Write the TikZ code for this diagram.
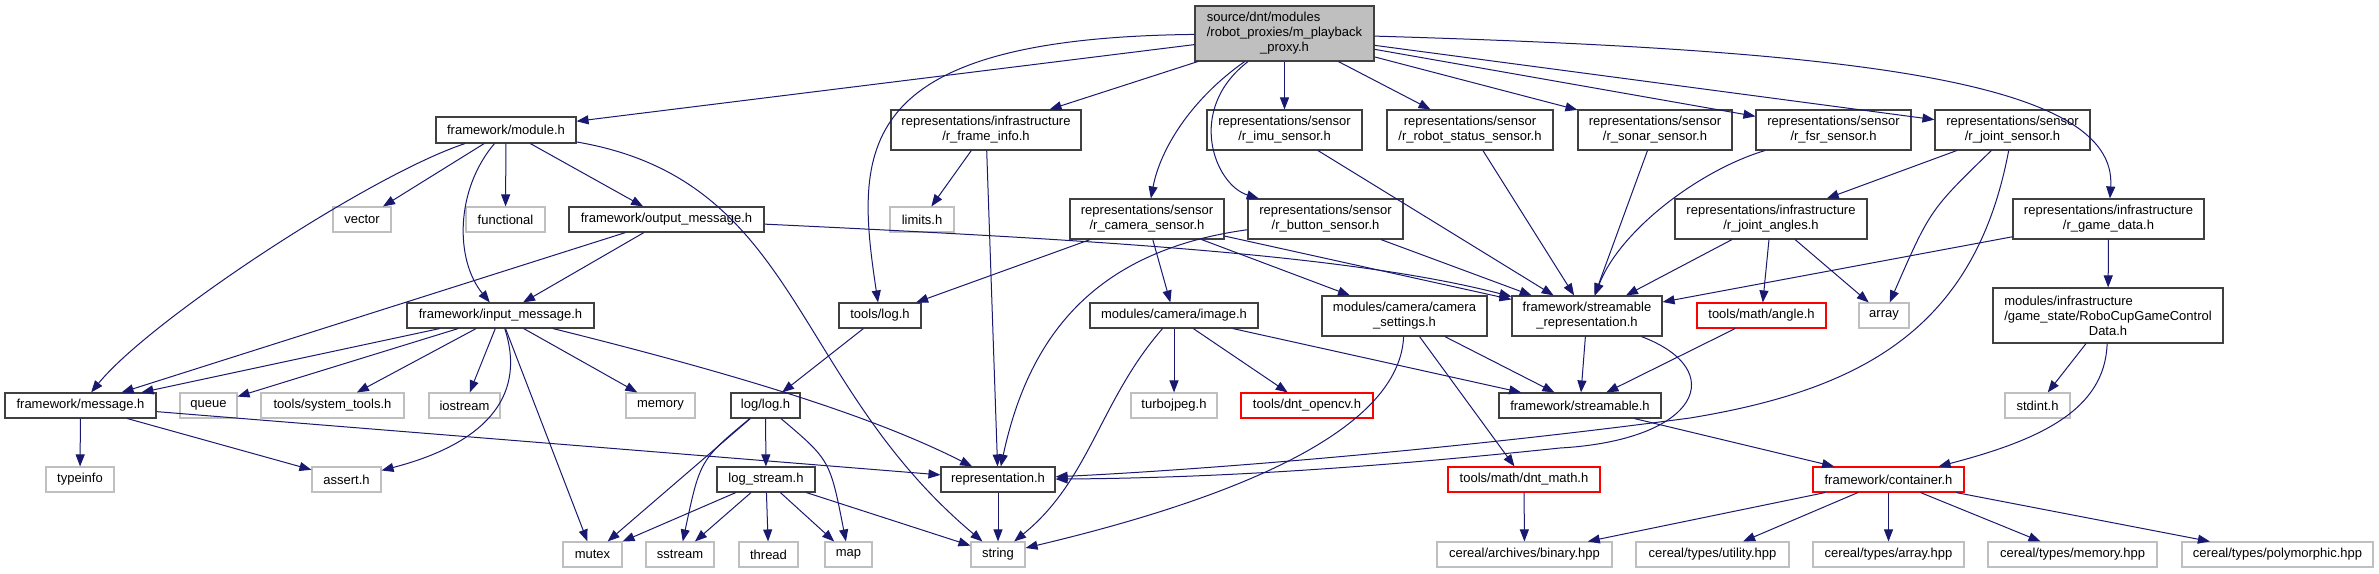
\documentclass[tikz,border=0pt]{standalone}
\usepackage{fontspec}
\setmainfont{Liberation Sans}
\usetikzlibrary{arrows.meta}
\definecolor{edgeblue}{HTML}{191970}
\definecolor{boxgray}{HTML}{404040}
\definecolor{extgray}{HTML}{BFBFBF}
\definecolor{mainfill}{HTML}{BFBFBF}
\tikzset{
  nodebase/.style={rectangle, fill=white, line width=1.1pt, inner sep=0pt, align=center,
    font=\fontsize{13}{15}\selectfont, minimum height=25pt},
  box/.style={nodebase, draw=boxgray},
  ext/.style={nodebase, draw=extgray},
  redbox/.style={nodebase, draw=red},
  mainbox/.style={nodebase, draw=boxgray, fill=mainfill},
  two/.style={minimum height=40pt},
  three/.style={minimum height=55pt},
  edge/.style={draw=edgeblue, line width=1pt, -{Triangle[length=12pt,width=9pt]}},
}
\begin{document}
\begin{tikzpicture}[x=1pt,y=-1pt]
\fill[white] (0,0) rectangle (2379,573);
\useasboundingbox (0,0) rectangle (2379,573);

% row 0
\node[mainbox, three, minimum width=179pt] (main) at (1284.5,33.5)
  {\rlap{source/dnt/modules}\phantom{/robot\_proxies/m\_playback}\\/robot\_proxies/m\_playback\\\_proxy.h};
% row 1
\node[box, minimum width=140pt, minimum height=26pt] (module) at (506,130) {framework/module.h};
\node[box, two, minimum width=190pt] (frame) at (986,130) {representations/infrastructure\\/r\_frame\_info.h};
\node[box, two, minimum width=155pt] (imu) at (1284.5,130) {representations/sensor\\/r\_imu\_sensor.h};
\node[box, two, minimum width=166pt] (robot) at (1470,130) {representations/sensor\\/r\_robot\_status\_sensor.h};
\node[box, two, minimum width=154pt] (sonar) at (1655,130) {representations/sensor\\/r\_sonar\_sensor.h};
\node[box, two, minimum width=155pt] (fsr) at (1833.5,130) {representations/sensor\\/r\_fsr\_sensor.h};
\node[box, two, minimum width=155pt] (jsensor) at (2012.5,130) {representations/sensor\\/r\_joint\_sensor.h};
% row 2
\node[ext, minimum width=58pt] (vector) at (362,219.5) {vector};
\node[ext, minimum width=79pt] (functional) at (505.5,219.5) {functional};
\node[box, minimum width=195pt] (outmsg) at (666.5,219.5) {framework/output\_message.h};
\node[ext, minimum width=64pt] (limits) at (922,219.5) {limits.h};
\node[box, two, minimum width=154pt] (camsens) at (1147,219) {representations/sensor\\/r\_camera\_sensor.h};
\node[box, two, minimum width=155pt] (button) at (1325.5,219) {representations/sensor\\/r\_button\_sensor.h};
\node[box, two, minimum width=192pt] (jangles) at (1771,219) {representations/infrastructure\\/r\_joint\_angles.h};
\node[box, two, minimum width=191pt] (gamedata) at (2108.5,219) {representations/infrastructure\\/r\_game\_data.h};
% row 3
\node[box, minimum width=187pt] (inmsg) at (500.5,315.5) {framework/input\_message.h};
\node[box, minimum width=82pt] (tlog) at (880,315.5) {tools/log.h};
\node[box, minimum width=168pt] (image) at (1174,315.5) {modules/camera/image.h};
\node[box, two, minimum width=165pt] (camset) at (1404.5,316) {modules/camera/camera\\\_settings.h};
\node[box, two, minimum width=150pt] (srep) at (1587,316) {framework/streamable\\\_representation.h};
\node[redbox, minimum width=129pt] (angle) at (1761.5,315.5) {tools/math/angle.h};
\node[ext, minimum width=50pt] (array) at (1884,315.5) {array};
\node[box, three, minimum width=230pt] (robocup) at (2108,315.5)
  {\rlap{modules/infrastructure}\phantom{/game\_state/RoboCupGameControl}\\/game\_state/RoboCupGameControl\\Data.h};
% row 4
\node[box, minimum width=151pt] (msg) at (80.5,405.5) {framework/message.h};
\node[ext, minimum width=57pt] (queue) at (208.5,405.5) {queue};
\node[ext, minimum width=143pt] (systools) at (332.5,405.5) {tools/system\_tools.h};
\node[ext, minimum width=71pt] (iostream) at (464.5,405.5) {iostream};
\node[ext, minimum width=69pt] (memory) at (660.5,405.5) {memory};
\node[box, minimum width=69pt] (loglog) at (765.5,405.5) {log/log.h};
\node[ext, minimum width=86pt] (turbo) at (1174,405.5) {turbojpeg.h};
\node[redbox, minimum width=132pt] (opencv) at (1307,405.5) {tools/dnt\_opencv.h};
\node[box, minimum width=162pt] (streamable) at (1580,405.5) {framework/streamable.h};
\node[ext, minimum width=65pt] (stdint) at (2037.5,405.5) {stdint.h};
% row 5
\node[ext, minimum width=68pt] (typeinfo) at (80,479.5) {typeinfo};
\node[ext, minimum width=69pt] (assert) at (346.5,479.5) {assert.h};
\node[box, minimum width=98pt] (logstream) at (766,479.5) {log\_stream.h};
\node[box, minimum width=114pt] (rep) at (998,479.5) {representation.h};
\node[redbox, minimum width=152pt] (dntmath) at (1524,479.5) {tools/math/dnt\_math.h};
\node[redbox, minimum width=151pt] (container) at (1888.5,479.5) {framework/container.h};
% row 6
\node[ext, minimum width=59pt] (mutex) at (592.5,554.5) {mutex};
\node[ext, minimum width=68pt] (sstream) at (680,554.5) {sstream};
\node[ext, minimum width=59pt] (thread) at (768.5,554.5) {thread};
\node[ext, minimum width=47pt] (map) at (848.5,554.5) {map};
\node[ext, minimum width=54pt] (string) at (998,554.5) {string};
\node[ext, minimum width=175pt] (binary) at (1524.5,554.5) {cereal/archives/binary.hpp};
\node[ext, minimum width=153pt] (utility) at (1712.5,554.5) {cereal/types/utility.hpp};
\node[ext, minimum width=151pt] (arrayhpp) at (1888.5,554.5) {cereal/types/array.hpp};
\node[ext, minimum width=169pt] (memoryhpp) at (2072.5,554.5) {cereal/types/memory.hpp};
\node[ext, minimum width=191pt] (poly) at (2277.5,554.5) {cereal/types/polymorphic.hpp};

% edges from main
\draw[edge] (main) -- (module);
\draw[edge] (main) .. controls (850,38) and (855,150) .. (tlog);
\draw[edge] (main) -- (frame);
\draw[edge] (main) .. controls (1190,100) and (1160,150) .. (camsens);
\draw[edge] (main) .. controls (1185,110) and (1215,185) .. (button);
\draw[edge] (main) -- (imu);
\draw[edge] (main) -- (robot);
\draw[edge] (main) -- (sonar);
\draw[edge] (main) -- (fsr);
\draw[edge] (main) -- (jsensor);
\draw[edge] (main) .. controls (1850,50) and (2118,80) .. (gamedata);
% module.h
\draw[edge] (module) -- (vector);
\draw[edge] (module) -- (functional);
\draw[edge] (module) -- (outmsg);
\draw[edge] (module) .. controls (455,190) and (455,260) .. (inmsg);
\draw[edge] (module) .. controls (370,175) and (150,320) .. (msg);
\draw[edge] (module) .. controls (800,180) and (790,380) .. (string);
% output_message.h
\draw[edge] (outmsg) -- (msg);
\draw[edge] (outmsg) -- (inmsg);
\draw[edge] (outmsg) .. controls (1100,240) and (1350,255) .. (srep);
% input_message.h
\draw[edge] (inmsg) -- (msg);
\draw[edge] (inmsg) -- (queue);
\draw[edge] (inmsg) -- (systools);
\draw[edge] (inmsg) -- (iostream);
\draw[edge] (inmsg) -- (memory);
\draw[edge] (inmsg) .. controls (528,400) and (480,445) .. (assert);
\draw[edge] (inmsg) -- (mutex);
\draw[edge] (inmsg) .. controls (760,380) and (880,420) .. (rep);
% message.h
\draw[edge] (msg) -- (typeinfo);
\draw[edge] (msg) -- (assert);
\draw[edge] (msg) -- (rep);
% log
\draw[edge] (tlog) -- (loglog);
\draw[edge] (loglog) -- (logstream);
\draw[edge] (loglog) -- (mutex);
\draw[edge] (loglog) .. controls (700,460) .. (sstream);
\draw[edge] (loglog) .. controls (830,460) .. (map);
\draw[edge] (logstream) -- (mutex);
\draw[edge] (logstream) -- (sstream);
\draw[edge] (logstream) -- (thread);
\draw[edge] (logstream) -- (map);
\draw[edge] (logstream) -- (string);
% frame info
\draw[edge] (frame) -- (limits);
\draw[edge] (frame) -- (rep);
% camera sensor
\draw[edge] (camsens) -- (tlog);
\draw[edge] (camsens) -- (image);
\draw[edge] (camsens) -- (camset);
\draw[edge] (camsens) -- (srep);
% button
\draw[edge] (button) .. controls (1100,250) and (1030,330) .. (rep);
\draw[edge] (button) -- (srep);
% other sensors
\draw[edge] (imu) -- (srep);
\draw[edge] (robot) -- (srep);
\draw[edge] (sonar) -- (srep);
\draw[edge] (fsr) .. controls (1700,170) and (1620,230) .. (srep);
% joint sensor
\draw[edge] (jsensor) -- (jangles);
\draw[edge] (jsensor) .. controls (1930,210) .. (array);
\draw[edge] (jsensor) .. controls (1975,330) and (1860,390) .. (1690,418) .. controls (1450,450) and (1200,470) .. (rep);
% joint angles
\draw[edge] (jangles) -- (srep);
\draw[edge] (jangles) -- (angle);
\draw[edge] (jangles) -- (array);
% game data
\draw[edge] (gamedata) -- (srep);
\draw[edge] (gamedata) -- (robocup);
\draw[edge] (robocup) -- (stdint);
\draw[edge] (robocup) .. controls (2105,410) and (2040,440) .. (container);
% streamables
\draw[edge] (angle) -- (streamable);
\draw[edge] (srep) -- (streamable);
\draw[edge] (srep) .. controls (1730,370) and (1700,440) .. (1560,448) .. controls (1350,470) and (1200,478) .. (rep);
\draw[edge] (streamable) -- (container);
% image
\draw[edge] (image) -- (turbo);
\draw[edge] (image) -- (opencv);
\draw[edge] (image) -- (streamable);
\draw[edge] (image) .. controls (1100,400) and (1090,480) .. (string);
% camera settings
\draw[edge] (camset) -- (streamable);
\draw[edge] (camset) -- (dntmath);
\draw[edge] (camset) .. controls (1400,420) and (1270,490) .. (string);
\draw[edge] (dntmath) -- (binary);
% container
\draw[edge] (container) -- (binary);
\draw[edge] (container) -- (utility);
\draw[edge] (container) -- (arrayhpp);
\draw[edge] (container) -- (memoryhpp);
\draw[edge] (container) -- (poly);
\draw[edge] (rep) -- (string);
\end{tikzpicture}
\end{document}
